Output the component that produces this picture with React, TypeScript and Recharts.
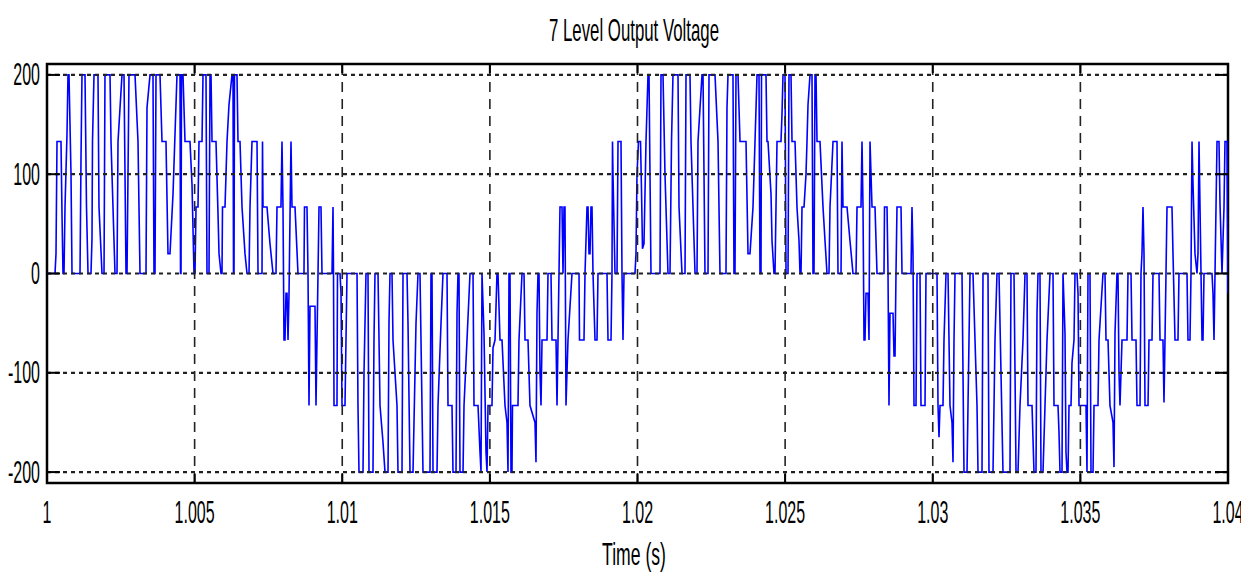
import { LineChart, Line, XAxis, YAxis, ReferenceLine, ReferenceArea } from 'recharts'

const X_TICKS = [1, 1.005, 1.01, 1.015, 1.02, 1.025, 1.03, 1.035, 1.04]
const Y_TICKS = [-200, -100, 0, 100, 200]
const X_DOMAIN = [1, 1.04]
const Y_DOMAIN = [-211, 211]

// samples: [ms after t = 1 s, volts]
const LOBE_1_POS = [
  [0, 0], [0.271, 0], [0.305, 20], [0.339, 133], [0.474, 133], [0.508, 60], [0.542, 0], [0.576, 0],
  [0.61, 67], [0.677, 140], [0.711, 200], [0.745, 200], [0.779, 150], [0.813, 100], [0.847, 0], [1.118, 0],
  [1.152, 117], [1.185, 200], [1.287, 200], [1.338, 67], [1.389, 0], [1.49, 0], [1.524, 35], [1.541, 133],
  [1.592, 200], [1.727, 200], [1.761, 67], [1.863, 0], [1.931, 0], [1.964, 200], [2.134, 200], [2.168, 133],
  [2.303, 0], [2.371, 0], [2.405, 133], [2.54, 200], [2.608, 200], [2.676, 0], [2.71, 0], [2.777, 200],
  [2.981, 200], [3.082, 133], [3.15, 0], [3.353, 0], [3.387, 167], [3.489, 200], [3.59, 200], [3.624, 0],
  [3.658, 0], [3.692, 200], [3.827, 200], [3.895, 133], [4.03, 133], [4.098, 20], [4.166, 20], [4.268, 80],
  [4.335, 140], [4.403, 200], [4.505, 200], [4.522, 0], [4.539, 0], [4.556, 200], [4.606, 200], [4.674, 133],
  [4.843, 133], [4.911, 90], [4.979, 0], [5.013, 0], [5.047, 67], [5.114, 67], [5.148, 133], [5.25, 133],
  [5.284, 200], [5.385, 200], [5.419, 0], [5.487, 0], [5.521, 200], [5.555, 200], [5.589, 133], [5.724, 133],
  [5.792, 60], [5.826, 20], [5.893, 0], [5.927, 0], [5.944, 67], [6.029, 67], [6.097, 133], [6.164, 170],
  [6.266, 200], [6.3, 200], [6.317, 0], [6.334, 0], [6.351, 200], [6.435, 200], [6.469, 133], [6.537, 133],
  [6.605, 67], [6.706, 20], [6.774, 0], [6.842, 0], [6.876, 67], [6.943, 133], [7.113, 133], [7.147, 0],
  [7.282, 0], [7.299, 133], [7.316, 67], [7.451, 67], [7.553, 30], [7.655, 0], [7.756, 0], [7.79, 67],
  [7.925, 67], [7.959, 133], [7.993, 67], [8.027, -67], [8.061, -67], [8.095, -20], [8.129, -20], [8.163, -67],
  [8.197, -20], [8.264, 133], [8.298, 67], [8.4, 67], [8.501, 0],
]

const LOBE_1_NEG = [
  [8.704, 0], [8.721, 67], [8.806, 67], [8.84, 0], [8.874, -133], [8.908, -33], [9.077, -33], [9.111, -133],
  [9.179, 0], [9.213, 67], [9.28, 67], [9.314, 0], [9.653, 0], [9.687, 67], [9.704, 0], [9.721, -133],
  [9.822, -133], [9.839, 0], [9.924, 0], [9.958, -20], [9.992, -133], [10.093, -133], [10.161, 0], [10.5, 0],
  [10.533, -133], [10.567, -200], [10.703, -200], [10.737, -100], [10.804, 0], [10.872, 0], [10.906, -200], [11.041, -200],
  [11.075, -67], [11.109, 0], [11.211, 0], [11.279, -133], [11.38, -170], [11.448, -200], [11.55, -200], [11.583, -50],
  [11.617, 0], [11.685, 0], [11.719, -67], [11.854, -133], [11.888, -200], [12.024, -200], [12.058, 0], [12.193, 0],
  [12.227, -50], [12.295, -200], [12.396, -200], [12.498, -50], [12.566, 0], [12.633, 0], [12.735, -200], [12.972, -200],
  [13.006, 0], [13.04, 0], [13.074, -200], [13.209, -200], [13.243, -133], [13.345, -50], [13.412, 0], [13.548, 0],
  [13.582, -133], [13.717, -133], [13.751, -200], [13.853, -200], [13.887, -40], [13.92, 0], [13.954, 0], [13.988, -200],
  [14.09, -200], [14.124, -133], [14.225, -67], [14.327, 0], [14.429, 0], [14.463, -133], [14.598, -133], [14.666, -180],
  [14.7, -200], [14.733, 0], [14.801, -60], [14.869, -180], [14.903, -200], [14.937, -133], [15.072, -133], [15.106, -75],
  [15.174, -67], [15.241, 0], [15.275, 0], [15.343, -67], [15.411, -67], [15.512, -133], [15.58, -150], [15.614, -200],
  [15.648, 0], [15.682, 0], [15.715, -200], [15.749, -200], [15.766, -133], [15.952, -133], [15.986, -67], [16.088, 0],
  [16.156, 0], [16.19, -67], [16.291, -67], [16.359, -133], [16.528, -150], [16.562, -190], [16.596, -40], [16.63, 0],
  [16.664, 0], [16.698, -100], [16.732, -133], [16.766, -67], [16.935, -67], [16.969, 0], [17.07, 0], [17.104, -67],
  [17.24, -67], [17.274, -133], [17.341, 0], [17.375, 67], [17.443, 67], [17.477, 0], [17.511, 67], [17.544, 67],
  [17.578, -133], [17.646, -67], [17.781, 0], [18.019, 0], [18.036, -67], [18.188, -67], [18.222, 0], [18.29, 67],
  [18.324, 67], [18.357, 20], [18.391, 20], [18.425, 67], [18.459, 67], [18.493, 0], [18.561, -67], [18.628, -67],
  [18.662, 0], [18.967, 0], [19.001, -67], [19.103, -67], [19.136, 0], [19.153, 133], [19.17, 100], [19.238, 0],
  [19.306, 0], [19.34, 133], [19.441, 133], [19.475, 0], [19.509, -67], [19.543, 0], [19.915, 0],
]

const LOBE_2_POS = [
  [19.949, 20], [19.983, 100], [20.034, 133], [20.102, 133], [20.135, 85], [20.169, 25], [20.22, 30], [20.288, 133],
  [20.356, 200], [20.39, 200], [20.423, 100], [20.457, 0], [20.762, 0], [20.796, 200], [20.864, 200], [20.931, 100],
  [21.033, 0], [21.101, 0], [21.152, 133], [21.202, 200], [21.372, 200], [21.406, 67], [21.507, 0], [21.609, 0],
  [21.643, 200], [21.778, 200], [21.812, 133], [21.948, 0], [22.015, 0], [22.049, 133], [22.185, 200], [22.219, 200],
  [22.286, 0], [22.388, 0], [22.422, 200], [22.625, 200], [22.727, 133], [22.794, 0], [22.997, 0], [23.031, 167],
  [23.065, 200], [23.234, 200], [23.268, 0], [23.302, 0], [23.336, 200], [23.404, 200], [23.472, 133], [23.675, 133],
  [23.743, 20], [23.81, 20], [23.912, 67], [23.98, 133], [24.048, 200], [24.115, 200], [24.149, 0], [24.183, 0],
  [24.2, 200], [24.352, 200], [24.386, 133], [24.42, 133], [24.522, 80], [24.556, 33], [24.623, 0], [24.657, 0],
  [24.691, 67], [24.725, 133], [24.86, 133], [24.894, 160], [24.928, 200], [24.996, 200], [25.03, 0], [25.098, 0],
  [25.131, 200], [25.199, 200], [25.233, 133], [25.335, 133], [25.402, 67], [25.47, 33], [25.504, 0], [25.538, 0],
  [25.572, 67], [25.64, 67], [25.707, 100], [25.741, 133], [25.775, 170], [25.843, 200], [25.91, 200], [25.944, 0],
  [25.978, 0], [26.012, 200], [26.046, 200], [26.08, 133], [26.181, 133], [26.283, 67], [26.351, 33], [26.418, 0],
  [26.486, 0], [26.52, 67], [26.622, 133], [26.757, 133], [26.791, 0], [26.893, 0], [26.926, 133], [26.96, 67],
  [27.096, 67], [27.197, 33], [27.299, 0], [27.401, 0], [27.435, 67], [27.57, 67], [27.604, 133], [27.638, 67],
  [27.672, -67], [27.705, -67], [27.739, -20], [27.807, -20], [27.841, -67], [27.875, 133], [27.943, 67], [28.044, 67],
  [28.112, 0],
]

const LOBE_2_NEG = [
  [28.349, 0], [28.366, 67], [28.451, 67], [28.485, 0], [28.518, -133], [28.552, -40], [28.654, -40], [28.688, -83],
  [28.722, -83], [28.755, 0], [28.789, 67], [28.925, 67], [28.959, 0], [29.263, 0], [29.297, 67], [29.331, 20],
  [29.365, -133], [29.433, -133], [29.467, 0], [29.568, 0], [29.602, -133], [29.738, -133], [29.771, 0], [30.144, 0],
  [30.178, -133], [30.212, -165], [30.246, -133], [30.347, -133], [30.381, -67], [30.449, 0], [30.517, 0], [30.584, -133],
  [30.652, -150], [30.686, -190], [30.72, -67], [30.754, 0], [30.991, 0], [31.058, -200], [31.16, -200], [31.194, -133],
  [31.262, 0], [31.363, 0], [31.431, -67], [31.499, -133], [31.533, -200], [31.668, -200], [31.702, 0], [31.871, 0],
  [31.905, -200], [32.041, -200], [32.108, -67], [32.176, 0], [32.244, 0], [32.379, -200], [32.616, -200], [32.65, 0],
  [32.752, 0], [32.82, -200], [32.887, -200], [32.955, -133], [33.057, -67], [33.125, 0], [33.192, 0], [33.226, -133],
  [33.362, -133], [33.429, -200], [33.497, -200], [33.531, -40], [33.565, 0], [33.632, 0], [33.666, -200], [33.734, -200],
  [33.802, -133], [33.87, -67], [33.971, 0], [34.073, 0], [34.107, -133], [34.242, -133], [34.276, -160], [34.31, -200],
  [34.378, -200], [34.412, 0], [34.479, -60], [34.513, -180], [34.547, -200], [34.581, -200], [34.615, -133], [34.683, -133],
  [34.716, -90], [34.784, -67], [34.818, 0], [34.886, 0], [34.92, -20], [34.954, -133], [35.191, -133], [35.224, -200],
  [35.258, 0], [35.326, 0], [35.36, -200], [35.428, -200], [35.462, -133], [35.597, -133], [35.631, -67], [35.766, 0],
  [35.834, 0], [35.868, -67], [35.936, -67], [36.003, -133], [36.105, -150], [36.139, -195], [36.173, -60], [36.24, 0],
  [36.274, 0], [36.308, -100], [36.342, -133], [36.41, -67], [36.579, -67], [36.613, 0], [36.715, 0], [36.749, -67],
  [36.884, -67], [36.918, -133], [37.02, -133], [37.053, 0], [37.087, 20], [37.121, 67], [37.155, 20], [37.189, -133],
  [37.291, -133], [37.324, -67], [37.426, -67], [37.46, 0], [37.663, 0], [37.697, -67], [37.798, -67], [37.832, -130],
  [37.866, -67], [37.9, 0], [37.934, 67], [38.103, 67], [38.137, 20], [38.205, -67], [38.306, -67], [38.34, 0],
  [38.611, 0], [38.645, -67], [38.713, -67], [38.747, 0], [38.781, 133], [38.815, 90], [38.882, 20], [38.95, 0],
  [38.984, 20], [39.018, 133], [39.052, 67], [39.086, 0], [39.12, -67], [39.153, -67], [39.187, 0], [39.458, 0],
  [39.492, -20], [39.526, -67], [39.56, 0], [39.594, 67], [39.628, 133], [39.695, 133], [39.729, 70], [39.797, 0],
  [39.865, 67], [39.898, 133], [39.966, 133], [40, -20],
]

const data = [...LOBE_1_POS, ...LOBE_1_NEG, ...LOBE_2_POS, ...LOBE_2_NEG].map(([ms, v]) => ({
  t: 1 + ms / 1000,
  v,
}))

const W = 1241
const H = 564
// plot box inside the svg
const PLOT = { left: 39, right: 1220, top: 56, bottom: 475 }
const FONT = "'Liberation Sans', Arial, sans-serif"

function XTick({ x, payload }: any) {
  return (
    <g>
      <line x1={x} x2={x} y1={PLOT.bottom} y2={PLOT.bottom - 9} stroke="#000" strokeWidth={2} />
      <line x1={x} x2={x} y1={PLOT.top} y2={PLOT.top + 9} stroke="#000" strokeWidth={2} />
      <text
        transform={`translate(${x},503.5) scale(0.5,1)`}
        textAnchor="middle"
        dy="0.36em"
        fontSize={32}
        fontFamily={FONT}
        fill="#000"
      >
        {String(payload.value)}
      </text>
    </g>
  )
}

function YTick({ y, payload }: any) {
  return (
    <g>
      <line x1={PLOT.left} x2={PLOT.left + 13} y1={y} y2={y} stroke="#000" strokeWidth={2} />
      <line x1={PLOT.right} x2={PLOT.right - 13} y1={y} y2={y} stroke="#000" strokeWidth={2} />
      <text
        transform={`translate(${PLOT.left - 7},${y - 1}) scale(0.5,1)`}
        textAnchor="end"
        dy="0.36em"
        fontSize={32}
        fontFamily={FONT}
        fill="#000"
      >
        {String(payload.value)}
      </text>
    </g>
  )
}

const textBase = {
  position: 'absolute' as const,
  fontFamily: FONT,
  fontSize: 32,
  lineHeight: '30px',
  whiteSpace: 'nowrap' as const,
  color: '#000',
}

export default function App() {
  return (
    <div style={{ position: 'relative', width: W, height: H, overflow: 'hidden' }}>
      <LineChart
        width={W}
        height={H}
        data={data}
        margin={{ top: PLOT.top, right: W - PLOT.right, bottom: 0, left: 0 }}
      >
        <XAxis
          dataKey="t"
          type="number"
          domain={X_DOMAIN}
          ticks={X_TICKS}
          allowDataOverflow
          height={H - PLOT.bottom}
          axisLine={false}
          tickLine={false}
          tick={<XTick />}
          interval={0}
        />
        <YAxis
          type="number"
          domain={Y_DOMAIN}
          ticks={Y_TICKS}
          allowDataOverflow
          width={PLOT.left}
          axisLine={false}
          tickLine={false}
          tick={<YTick />}
          interval={0}
        />
        <Line
          type="linear"
          dataKey="v"
          stroke="#0000ff"
          strokeWidth={1.6}
          dot={false}
          activeDot={false}
          isAnimationActive={false}
        />
        {X_TICKS.slice(1, -1).map((t) => (
          <ReferenceLine key={`gx${t}`} x={t} stroke="#222" strokeWidth={1.6} strokeDasharray="10 7" />
        ))}
        {Y_TICKS.map((v) => (
          <ReferenceLine key={`gy${v}`} y={v} stroke="#222" strokeWidth={2.2} strokeDasharray="4 4" />
        ))}
        <ReferenceArea
          x1={X_DOMAIN[0]}
          x2={X_DOMAIN[1]}
          y1={Y_DOMAIN[0]}
          y2={Y_DOMAIN[1]}
          fill="none"
          stroke="#000"
          strokeWidth={2.5}
        />
      </LineChart>
      <div style={{ ...textBase, left: 626, top: 22, transform: 'translate(-50%, -50%) scaleX(0.525)' }}>
        7 Level Output Voltage
      </div>
      <div style={{ ...textBase, left: 626, top: 546, transform: 'translate(-50%, -50%) scaleX(0.55)' }}>
        Time (s)
      </div>
    </div>
  )
}
